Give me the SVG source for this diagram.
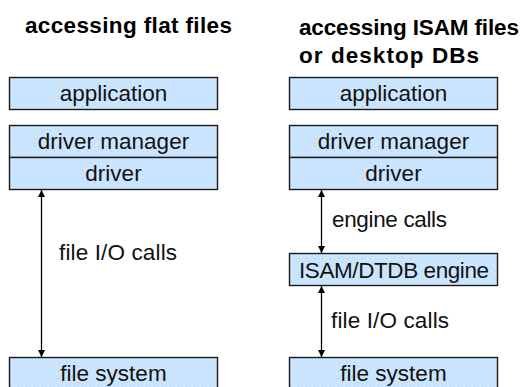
<svg xmlns="http://www.w3.org/2000/svg" width="523" height="387" viewBox="0 0 523 387">
<style>
.title{font-family:"Liberation Sans",Arial,sans-serif;font-weight:bold;font-size:22.5px;fill:#000}
.lbl{font-family:"Liberation Sans",Arial,sans-serif;font-size:22.5px;fill:#111}
.box{fill:url(#dots);stroke:#1a1a1a;stroke-width:1.4}
.conn{stroke:#000;stroke-width:1.3;fill:none}
</style>
<defs>
<pattern id="dots" width="8" height="8" patternUnits="userSpaceOnUse">
<rect width="8" height="8" fill="#cce5ff"/>
<rect x="2" y="2" width="1" height="1" fill="#a8c6ea"/>
<rect x="6" y="6" width="1" height="1" fill="#b4d0f0"/>
</pattern>
<marker id="ah" viewBox="0 0 10 10" refX="10" refY="5" markerWidth="7" markerHeight="7" markerUnits="userSpaceOnUse" orient="auto-start-reverse">
<path d="M0,0 L10,5 L0,10 z" fill="#000"/>
</marker>
</defs>
<rect width="523" height="387" fill="#fff"/>
<text class="title" x="25" y="33" textLength="207">accessing flat files</text>
<text class="title" x="299" y="35" textLength="220">accessing ISAM files</text>
<text class="title" x="299" y="63" textLength="180">or desktop DBs</text>
<g id="left-application"><rect class="box" x="9.5" y="77.5" width="208" height="32"/><text class="lbl" x="113.5" y="101" text-anchor="middle">application</text></g>
<g id="left-driver-manager"><rect class="box" x="9.5" y="125.5" width="208" height="32"/><text class="lbl" x="113.5" y="149" text-anchor="middle">driver manager</text></g>
<g id="left-driver"><rect class="box" x="9.5" y="157.5" width="208" height="32"/><text class="lbl" x="113.5" y="181" text-anchor="middle">driver</text></g>
<g id="left-file-system"><rect class="box" x="9.5" y="357.5" width="208" height="32"/><text class="lbl" x="113.5" y="381" text-anchor="middle">file system</text></g>
<g id="right-application"><rect class="box" x="289.5" y="77.5" width="208" height="32"/><text class="lbl" x="393.5" y="101" text-anchor="middle">application</text></g>
<g id="right-driver-manager"><rect class="box" x="289.5" y="125.5" width="208" height="32"/><text class="lbl" x="393.5" y="149" text-anchor="middle">driver manager</text></g>
<g id="right-driver"><rect class="box" x="289.5" y="157.5" width="208" height="32"/><text class="lbl" x="393.5" y="181" text-anchor="middle">driver</text></g>
<g id="right-engine"><rect class="box" x="289.5" y="253.5" width="208" height="32"/><text class="lbl" x="394" y="278" text-anchor="middle" textLength="190">ISAM/DTDB engine</text></g>
<g id="right-file-system"><rect class="box" x="289.5" y="357.5" width="208" height="32"/><text class="lbl" x="393.5" y="381" text-anchor="middle">file system</text></g>
<g id="connectors">
<line class="conn" x1="41.5" y1="190" x2="41.5" y2="357" marker-start="url(#ah)" marker-end="url(#ah)"/>
<line class="conn" x1="321.5" y1="190" x2="321.5" y2="253" marker-start="url(#ah)" marker-end="url(#ah)"/>
<line class="conn" x1="321.5" y1="286" x2="321.5" y2="357" marker-start="url(#ah)" marker-end="url(#ah)"/>
<text class="lbl" x="59" y="260" textLength="118">file I/O calls</text>
<text class="lbl" x="332" y="227" textLength="115">engine calls</text>
<text class="lbl" x="331" y="328" textLength="118">file I/O calls</text>
</g>
</svg>
